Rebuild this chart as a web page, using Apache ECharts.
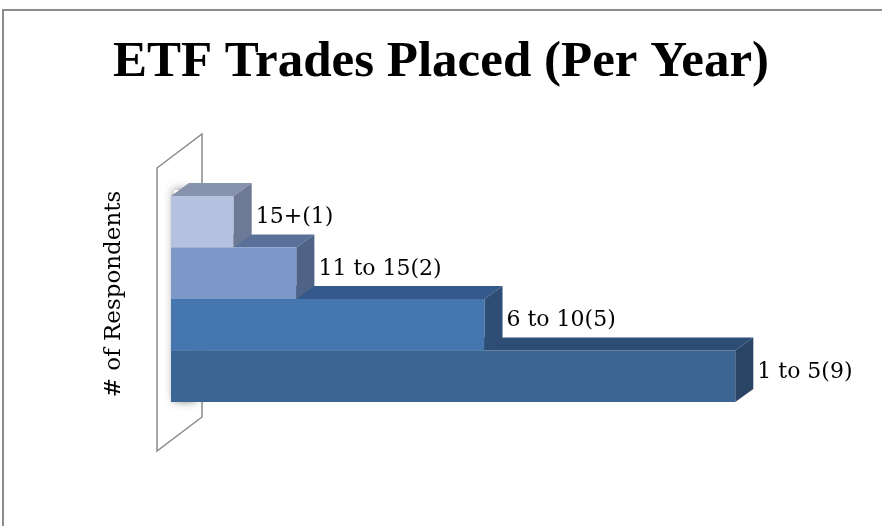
<!DOCTYPE html>
<html>
<head>
<meta charset="utf-8">
<script src="https://cdn.jsdelivr.net/npm/echarts@6/dist/echarts.min.js"></script>
<style>
html,body{margin:0;padding:0;background:#fff;}
#chart{width:882px;height:526px;}
</style>
</head>
<body>
<div id="chart"></div>
<script>
// ---- data ----
var categories = ['1 to 5', '6 to 10', '11 to 15', '15+'];
var respondents = [9, 5, 2, 1];
var xMin = 0;
var xMax = 10;
var titleText = 'ETF Trades Placed (Per Year)';
var axisTitle = '# of Respondents';

// ---- styles ----
var frontColors = ['#3b6592', '#4576b0', '#7b98c9', '#b5c1de'];
var topColors   = ['#2e4d74', '#35598a', '#5a7299', '#8793ad'];
var sideColors  = ['#2a4466', '#2f4e76', '#4e6386', '#6e7a95'];
var DX = 18, DY = -13;

var chart = echarts.init(document.getElementById('chart'));

var seriesData = respondents.map(function (v, i) { return [v, i]; });

chart.setOption({
  animation: false,
  backgroundColor: '#ffffff',
  grid: { left: 171, top: 196, width: 627, height: 206 },
  xAxis: { type: 'value', min: xMin, max: xMax, show: false },
  yAxis: { type: 'category', data: categories, show: false, boundaryGap: true },
  graphic: [
    { type: 'line', shape: { x1: 3, y1: 10, x2: 3, y2: 526 }, style: { stroke: '#8c8c8c', lineWidth: 2 }, silent: true },
    { type: 'line', shape: { x1: 2, y1: 10, x2: 890, y2: 10 }, style: { stroke: '#8c8c8c', lineWidth: 2 }, silent: true },
    { type: 'polygon', z: -10, shape: { points: [[157, 168], [202, 134], [202, 417], [157, 451]] },
      style: { fill: '#ffffff', stroke: '#8a8a8a', lineWidth: 1.5 }, silent: true },
    { type: 'rect', z: -9, shape: { x: 174, y: 190, width: 22, height: 211 },
      style: { fill: '#ffffff', shadowColor: 'rgba(0,0,0,0.55)', shadowBlur: 10 }, silent: true },
    { type: 'text', left: 'center', top: 37,
      style: { text: titleText, font: 'bold 51px "Liberation Serif"', fill: '#000' }, silent: true },
    { type: 'text', x: 114, y: 294, rotation: Math.PI / 2,
      style: { text: axisTitle, font: '23px "DejaVu Serif"', fill: '#000', align: 'center', verticalAlign: 'middle' }, silent: true }
  ],
  series: [{
    type: 'custom',
    data: seriesData,
    z: 5,
    renderItem: function (params, api) {
      var i = params.dataIndex;
      var v = api.value(0);
      var c = api.value(1);
      var p0 = api.coord([0, c]);
      var p1 = api.coord([v, c]);
      var h = api.size([0, 1])[1];
      var x0 = p0[0], x1 = p1[0];
      var yT = p0[1] - h / 2, yB = p0[1] + h / 2;
      return {
        type: 'group',
        children: [
          { type: 'polygon', shape: { points: [[x0, yT], [x1, yT], [x1 + DX, yT + DY], [x0 + DX, yT + DY]] },
            style: { fill: topColors[i] } },
          { type: 'rect', shape: { x: x0, y: yT, width: x1 - x0, height: yB - yT },
            style: { fill: frontColors[i] } },
          { type: 'polygon', shape: { points: [[x1, yT], [x1 + DX, yT + DY], [x1 + DX, yB + DY], [x1, yB]] },
            style: { fill: sideColors[i] } },
          { type: 'text', x: x1 + DX + 4, y: p0[1] - 4,
            style: { text: categories[c] + '(' + v + ')', font: '22px "DejaVu Serif"', fill: '#000',
                     align: 'left', verticalAlign: 'middle' } }
        ]
      };
    }
  }]
});
</script>
</body>
</html>
